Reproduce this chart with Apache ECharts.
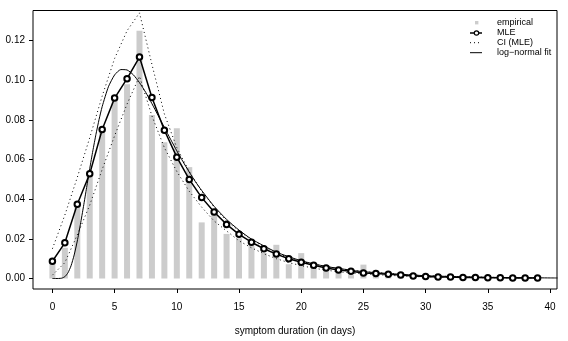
<!DOCTYPE html>
<html><head><meta charset="utf-8">
<script src="https://cdn.jsdelivr.net/npm/echarts@6/dist/echarts.min.js"></script>
<style>html,body{margin:0;padding:0;background:#fff}#c{width:568px;height:341px}</style>
</head><body><div id="c"></div>
<script>
// ---- data ----
const days = [0,1,2,3,4,5,6,7,8,9,10,11,12,13,14,15,16,17,18,19,20,21,22,23,24,25,26,27,28,29,30,31,32,33,34,35,36,37,38,39];
const empirical = [0.010,0.0155,0.037,0.054,0.074,0.0925,0.098,0.125,0.0825,0.0687,0.0758,0.0562,0.0283,0.0342,0.0225,0.0203,0.0167,0.0128,0.017,0.0072,0.0128,0.0062,0.005,0.0033,0.0017,0.007,0.004,0.0025,0.001,0.0005,0.001,0,0.0005,0,0,0.0005,0,0,0,0.0005];
const mle = [0.0087,0.018,0.0375,0.0528,0.0752,0.091,0.1008,0.1117,0.0913,0.0748,0.0612,0.050,0.0408,0.0335,0.0273,0.0223,0.0183,0.015,0.0123,0.010,0.0082,0.0067,0.0053,0.0043,0.0037,0.0028,0.0025,0.0022,0.0017,0.0012,0.001,0.0008,0.0007,0.0005,0.0005,0.0004,0.0004,0.0003,0.0003,0.0003];
const ciUpper = [0.015,0.032,0.051,0.071,0.092,0.111,0.125,0.134,0.108,0.083,0.066,0.054,0.044,0.036,0.029,0.024,0.0195,0.016,0.013,0.0105,0.0087,0.0072,0.006,0.005,0.0042,0.0035,0.003,0.0026,0.0021,0.0017,0.0014,0.0012,0.001,0.0008,0.0007,0.0006,0.0005,0.0005,0.0004,0.0004];
const ciLower = [0.0017,0.008,0.022,0.037,0.055,0.072,0.088,0.102,0.082,0.066,0.054,0.044,0.036,0.029,0.024,0.019,0.0155,0.0125,0.010,0.008,0.0065,0.0052,0.0042,0.0034,0.0028,0.0023,0.0019,0.0016,0.0013,0.001,0.0008,0.0007,0.0006,0.0005,0.0004,0.0004,0.0003,0.0003,0.0002,0.0002];
const fitX = [0,0.25,0.5,0.75,1,1.25,1.5,1.75,2,2.25,2.5,2.75,3,3.25,3.5,3.75,4,4.5,5,5.5,6,6.5,7,7.5,8,8.5,9,9.5,10,10.5,11,11.5,12,13,14,15,16,18,20,22,25,30,35,40,40.6];
const fitY = [0,0,0.00001,0.00017,0.00092,0.00286,0.00645,0.01187,0.0189,0.0273,0.0364,0.0459,0.0554,0.0644,0.0727,0.0802,0.0867,0.0967,0.1027,0.1054,0.1052,0.1028,0.0988,0.0939,0.0882,0.0822,0.0762,0.0702,0.0644,0.0589,0.0537,0.0488,0.0444,0.0364,0.0298,0.0244,0.0199,0.0133,0.00895,0.00607,0.00344,0.00141,0.00061,0.00028,0.00026];
const xTicks = [0,5,10,15,20,25,30,35,40];
const yTicks = [0,0.02,0.04,0.06,0.08,0.10,0.12];
const legendNames = ['empirical','MLE','CI (MLE)','log\u2212normal fit'];
const xTitle = 'symptom duration (in days)';

const FONT = '"Liberation Sans", Arial, Helvetica, sans-serif';
const pair = (xs, ys) => xs.map((x, i) => [x, ys[i]]);

const chart = echarts.init(document.getElementById('c'), null, {renderer: 'canvas'});

// legend drawn as graphic (R-style, no box)
const lx0 = 470, lx1 = 482, tx = 497;
const ly = [22.7, 33, 42.7, 52.7];
const g = [];
g.push({type:'rect', shape:{x:475, y:ly[0]-1.7, width:3.4, height:3.4}, style:{fill:'#cccccc'}});
g.push({type:'line', shape:{x1:lx0, y1:ly[1], x2:lx1, y2:ly[1]}, style:{stroke:'#000', lineWidth:1.5}});
g.push({type:'circle', shape:{cx:476.5, cy:ly[1], r:2.2}, style:{fill:'#fff', stroke:'#000', lineWidth:1.2}});
g.push({type:'line', shape:{x1:lx0, y1:ly[2], x2:lx1, y2:ly[2]}, style:{stroke:'#000', lineWidth:1, lineDash:[1,3]}});
g.push({type:'line', shape:{x1:lx0, y1:ly[3], x2:lx1, y2:ly[3]}, style:{stroke:'#000', lineWidth:1}});
legendNames.forEach((n, i) => g.push({type:'text', x:tx, y:ly[i], style:{text:n, fill:'#000', font:'9px ' + FONT, textVerticalAlign:'middle', textAlign:'left'}}));

chart.setOption({
  animation: false,
  backgroundColor: '#fff',
  grid: {left: 33, right: 11, top: 10.5, bottom: 50.5, show: true, borderColor: '#000', borderWidth: 1, backgroundColor: 'transparent'},
  xAxis: {
    type: 'value', min: -1.56, max: 40.56,
    name: xTitle, nameLocation: 'middle', nameGap: 37,
    nameTextStyle: {fontFamily: FONT, fontSize: 10, color: '#000'},
    axisLine: {show: false, onZero: false},
    axisTick: {show: true, length: 4, lineStyle: {color: '#000'}, customValues: xTicks},
    axisLabel: {show: true, margin: 13, fontFamily: FONT, fontSize: 10, color: '#000', customValues: xTicks},
    splitLine: {show: false}
  },
  yAxis: {
    type: 'value', min: -0.0053, max: 0.1352,
    axisLine: {show: false, onZero: false},
    axisTick: {show: true, length: 4, lineStyle: {color: '#000'}, customValues: yTicks},
    axisLabel: {show: true, margin: 8, fontFamily: FONT, fontSize: 10, color: '#000', customValues: yTicks, formatter: v => v.toFixed(2)},
    splitLine: {show: false}
  },
  graphic: g,
  series: [
    {name: legendNames[0], type: 'bar', data: pair(days, empirical), barWidth: 6, itemStyle: {color: '#cccccc'}, z: 1},
    {name: legendNames[2] + ' upper', type: 'line', data: pair(days, ciUpper), symbol: 'none', lineStyle: {color: '#000', width: 1, type: [1,3]}, z: 2},
    {name: legendNames[2] + ' lower', type: 'line', data: pair(days, ciLower), symbol: 'none', lineStyle: {color: '#000', width: 1, type: [1,3]}, z: 2},
    {name: legendNames[3], type: 'line', data: pair(fitX, fitY), symbol: 'none', smooth: 0.2, lineStyle: {color: '#000', width: 1}, z: 3},
    {name: legendNames[1], type: 'line', data: pair(days, mle), symbol: 'emptyCircle', symbolSize: 5.5, lineStyle: {color: '#000', width: 1.5}, itemStyle: {color: '#000', borderWidth: 1.3}, z: 4}
  ]
});
</script></body></html>
